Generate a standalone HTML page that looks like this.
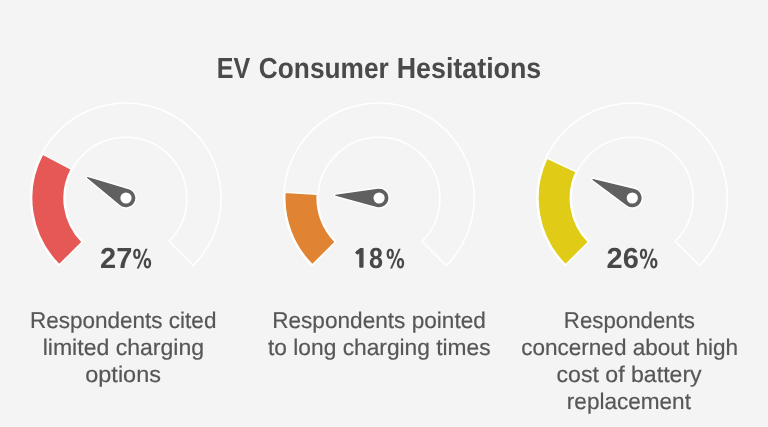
<!DOCTYPE html>
<html><head><meta charset="utf-8"><title>EV Consumer Hesitations</title>
<style>
html,body{margin:0;padding:0;background:#f4f4f4;}
body{width:768px;height:427px;overflow:hidden;}
svg{display:block;will-change:transform;}
text{text-rendering:geometricPrecision;font-family:"Liberation Sans",Arial,sans-serif;text-anchor:middle;}
.grp{text-rendering:geometricPrecision;text-anchor:start;font-family:"Liberation Sans",Arial,sans-serif;}
.title{font-weight:700;font-size:29px;fill:#4a4a4a;}
.pct{font-weight:700;font-size:29px;fill:#484848;}
.pct1{font-family:"NanumGothic","Liberation Sans",sans-serif;font-weight:700;font-size:24.5px;fill:#484848;stroke:#484848;stroke-width:1.1px;}
.pcts{font-family:"DejaVu Sans","Liberation Sans",sans-serif;font-weight:700;font-size:26px;fill:#484848;}
.desc{font-size:22.8px;fill:#575757;stroke:#575757;stroke-width:0.2px;}
</style></head>
<body>
<svg width="768" height="427" viewBox="0 0 768 427">
<rect width="768" height="427" fill="#f4f4f4"/>
<path d="M58.58,265.52 A95.2,95.2 0 1 1 193.22,265.52 L168.96,241.26 A60.9,60.9 0 1 0 82.84,241.26 Z" fill="#f4f4f4" stroke="#fff" stroke-width="1.6"/>
<path d="M59.29,264.81 A94.2,94.2 0 0 1 42.65,154.12 L71.19,169.24 A61.9,61.9 0 0 0 82.13,241.97 Z" fill="#e55855" stroke="#fff" stroke-width="1.4"/>
<path d="M119.65,205.72 L86.73,178.65 A1.3,1.3 0 0 1 87.92,176.40 L128.82,188.41 A10.0,10.0 0 1 1 119.65,205.72 Z" fill="#606060" stroke="#fff" stroke-width="1.5" stroke-linejoin="round"/>
<circle cx="126.00" cy="198.0" r="5.6" fill="#fff"/>
<path d="M311.68,265.52 A95.2,95.2 0 1 1 446.32,265.52 L422.06,241.26 A60.9,60.9 0 1 0 335.94,241.26 Z" fill="#f4f4f4" stroke="#fff" stroke-width="1.6"/>
<path d="M312.39,264.81 A94.2,94.2 0 0 1 284.99,192.29 L317.22,194.31 A61.9,61.9 0 0 0 335.23,241.97 Z" fill="#e08433" stroke="#fff" stroke-width="1.4"/>
<path d="M376.49,207.65 L335.35,196.52 A1.3,1.3 0 0 1 335.51,193.98 L377.72,188.10 A10.0,10.0 0 1 1 376.49,207.65 Z" fill="#606060" stroke="#fff" stroke-width="1.5" stroke-linejoin="round"/>
<circle cx="379.10" cy="198.0" r="5.6" fill="#fff"/>
<path d="M564.88,265.52 A95.2,95.2 0 1 1 699.52,265.52 L675.26,241.26 A60.9,60.9 0 1 0 589.14,241.26 Z" fill="#f4f4f4" stroke="#fff" stroke-width="1.6"/>
<path d="M565.59,264.81 A94.2,94.2 0 0 1 546.97,158.09 L576.19,171.84 A61.9,61.9 0 0 0 588.43,241.97 Z" fill="#e0cc16" stroke="#fff" stroke-width="1.4"/>
<path d="M626.32,206.01 L592.16,180.52 A1.3,1.3 0 0 1 593.25,178.22 L634.66,188.28 A10.0,10.0 0 1 1 626.32,206.01 Z" fill="#606060" stroke="#fff" stroke-width="1.5" stroke-linejoin="round"/>
<circle cx="632.30" cy="198.0" r="5.6" fill="#fff"/>
<text class="grp"><tspan x="216.77" y="77.9" class="title" textLength="33.46" lengthAdjust="spacingAndGlyphs">EV</tspan> <tspan x="258.85" y="77.9" class="title" textLength="129.90" lengthAdjust="spacingAndGlyphs">Consumer</tspan> <tspan x="396.69" y="77.9" class="title" textLength="144.62" lengthAdjust="spacingAndGlyphs">Hesitations</tspan></text>
<text class="grp"><tspan x="100.09" y="267.9" class="pct" textLength="32.31" lengthAdjust="spacingAndGlyphs">27</tspan><tspan x="132.45" y="267.5" class="pcts" textLength="19.31" lengthAdjust="spacingAndGlyphs">%</tspan></text>
<text class="grp"><tspan x="352.31" y="267.2" class="pct1" textLength="17.07" lengthAdjust="spacingAndGlyphs">1</tspan><tspan x="368.96" y="267.9" class="pct" textLength="13.98" lengthAdjust="spacingAndGlyphs">8</tspan><tspan x="386.01" y="267.5" class="pcts" textLength="18.78" lengthAdjust="spacingAndGlyphs">%</tspan></text>
<text class="grp"><tspan x="606.60" y="267.9" class="pct" textLength="32.21" lengthAdjust="spacingAndGlyphs">26</tspan><tspan x="639.18" y="267.5" class="pcts" textLength="18.84" lengthAdjust="spacingAndGlyphs">%</tspan></text>
<text id="d1l1" x="123.20" y="327.7" class="desc" textLength="186.43" lengthAdjust="spacingAndGlyphs">Respondents cited</text>
<text id="d1l2" x="123.40" y="354.7" class="desc" textLength="161.47" lengthAdjust="spacingAndGlyphs">limited charging</text>
<text id="d1l3" x="123.10" y="381.7" class="desc" textLength="75.66" lengthAdjust="spacingAndGlyphs">options</text>
<text id="d2l1" x="379.00" y="327.7" class="desc" textLength="213.68" lengthAdjust="spacingAndGlyphs">Respondents pointed</text>
<text id="d2l2" x="379.30" y="354.7" class="desc" textLength="222.63" lengthAdjust="spacingAndGlyphs">to long charging times</text>
<text id="d3l1" x="629.40" y="327.7" class="desc" textLength="131.11" lengthAdjust="spacingAndGlyphs">Respondents</text>
<text id="d3l2" x="629.60" y="354.7" class="desc" textLength="216.93" lengthAdjust="spacingAndGlyphs">concerned about high</text>
<text id="d3l3" x="629.10" y="381.7" class="desc" textLength="145.18" lengthAdjust="spacingAndGlyphs">cost of battery</text>
<text id="d3l4" x="628.90" y="408.7" class="desc" textLength="124.09" lengthAdjust="spacingAndGlyphs">replacement</text>
</svg>
</body></html>
